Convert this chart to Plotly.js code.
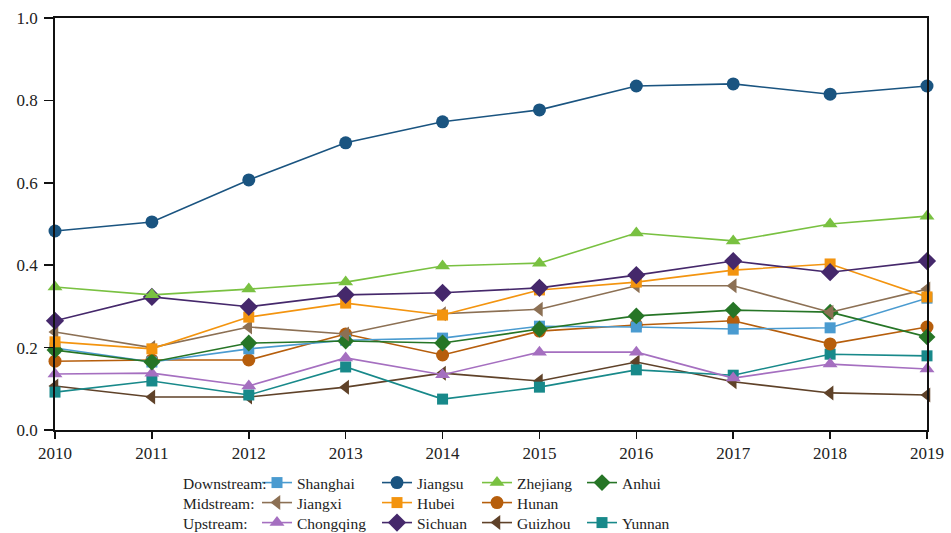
<!DOCTYPE html>
<html><head><meta charset="utf-8">
<script src="https://cdn.plot.ly/plotly-3.0.1.min.js"></script>
<style>body{margin:0;background:#fff}#chart{width:951px;height:533px}</style>
</head><body><div id="chart"></div>
<script>
const years = [2010,2011,2012,2013,2014,2015,2016,2017,2018,2019];
const shanghai  = [0.199,0.165,0.197,0.218,0.223,0.252,0.250,0.245,0.248,0.320];
const jiangsu   = [0.483,0.505,0.607,0.697,0.748,0.777,0.835,0.840,0.815,0.835];
const zhejiang  = [0.347,0.328,0.342,0.359,0.398,0.405,0.478,0.459,0.500,0.519];
const anhui     = [0.194,0.165,0.211,0.216,0.211,0.245,0.277,0.291,0.286,0.226];
const jiangxi   = [0.238,0.200,0.250,0.233,0.282,0.293,0.350,0.350,0.286,0.342];
const hubei     = [0.214,0.197,0.274,0.308,0.279,0.340,0.359,0.388,0.403,0.323];
const hunan     = [0.167,0.170,0.170,0.233,0.182,0.240,0.255,0.265,0.209,0.250];
const chongqing = [0.136,0.138,0.107,0.175,0.134,0.189,0.189,0.126,0.160,0.148];
const sichuan   = [0.265,0.323,0.299,0.328,0.333,0.345,0.376,0.410,0.383,0.410];
const guizhou   = [0.107,0.080,0.080,0.104,0.138,0.119,0.165,0.117,0.090,0.085];
const yunnan    = [0.092,0.119,0.085,0.153,0.075,0.104,0.146,0.133,0.184,0.180];
const groupLabels = ['Downstream:','Midstream:','Upstream:'];

// legend cell for each series: [column, row]
const cellX = [257, 377, 477, 582];
const cellY = [483, 503, 523];
let legN = 1;
const legends = {};
const fontFam = '"Liberation Serif", "Times New Roman", serif';

function tr(name, y, color, symbol, size, col, row){
  legN += 1;
  const id = 'legend' + legN;
  legends[id] = {orientation:'h', xref:'container', yref:'container', x:cellX[col]/951, y:1-cellY[row]/533,
    xanchor:'left', yanchor:'middle', font:{family:fontFam, size:15.5, color:'#222'}, itemwidth:30,
    bgcolor:'rgba(0,0,0,0)', borderwidth:0};
  return {x: years, y: y, name: name, type:'scatter', mode:'lines+markers',
    line:{color:color, width:1.6}, marker:{color:color, symbol:symbol, size:size},
    cliponaxis:false, legend: id, showlegend:true};
}
const data = [
  tr('Guizhou', guizhou, '#5f4229', 'triangle-left', 13, 2, 2),
  tr('Yunnan', yunnan, '#18898a', 'square', 11, 3, 2),
  tr('Chongqing', chongqing, '#a56fc0', 'triangle-up', 13, 0, 2),
  tr('Hunan', hunan, '#b65e0c', 'circle', 13, 2, 1),
  tr('Shanghai', shanghai, '#4a9bd0', 'square', 11, 0, 0),
  tr('Anhui', anhui, '#267526', 'diamond', 13, 3, 0),
  tr('Jiangxi', jiangxi, '#8c7054', 'triangle-left', 13, 0, 1),
  tr('Hubei', hubei, '#f3940f', 'square', 11, 1, 1),
  tr('Sichuan', sichuan, '#45286b', 'diamond', 14, 1, 2),
  tr('Zhejiang', zhejiang, '#79c141', 'triangle-up', 13, 2, 0),
  tr('Jiangsu', jiangsu, '#1a5480', 'circle', 13, 1, 0)
];

const axisCommon = {showgrid:false, zeroline:false, showline:true, linecolor:'#111', linewidth:1.8, mirror:true,
  ticks:'outside', tickcolor:'#111', tickwidth:1.6, tickfont:{family:fontFam, size:17, color:'#222'}};
const layout = Object.assign({
  width:951, height:533, paper_bgcolor:'#fff', plot_bgcolor:'#fff', showlegend:true,
  margin:{l:55, r:24, t:18, b:103},
  font:{family:fontFam, size:16, color:'#222'},
  xaxis:Object.assign({range:[2010,2019], tickvals:years, ticktext:years.map(String), ticklen:7}, axisCommon),
  yaxis:Object.assign({range:[0,1], dtick:0.2, tickformat:'.1f', ticklen:9, ticklabelstandoff:3}, axisCommon),
  annotations: groupLabels.map((t,i)=>({text:t, xref:'paper', yref:'paper', x:(181-55)/872, xanchor:'left',
    y:-(cellY[i]-430)/412, yanchor:'middle', showarrow:false, font:{family:fontFam, size:15.5, color:'#222'}}))
}, legends);
Plotly.newPlot('chart', data, layout, {displayModeBar:false, staticPlot:true});
</script></body></html>
